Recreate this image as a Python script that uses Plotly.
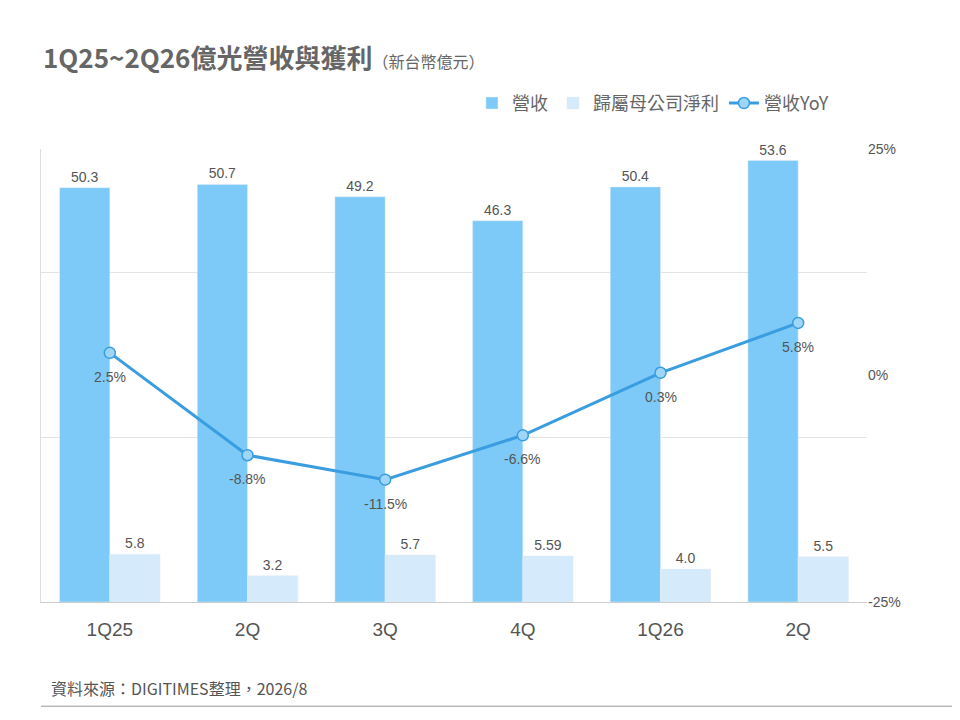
import plotly.graph_objects as go

categories = ["1Q25", "2Q", "3Q", "4Q", "1Q26", "2Q"]
revenue = [50.3, 50.7, 49.2, 46.3, 50.4, 53.6]
net_income = [5.8, 3.2, 5.7, 5.59, 4.0, 5.5]
net_labels = ["5.8", "3.2", "5.7", "5.59", "4.0", "5.5"]
yoy = [2.5, -8.8, -11.5, -6.6, 0.3, 5.8]

x = list(range(len(categories)))
font = "Noto Sans CJK TC, Arial, sans-serif"
lab = "Liberation Sans, Arial, sans-serif"

fig = go.Figure()
fig.add_bar(x=x, y=revenue, name="營收", marker_color="#7DCAF8",
            text=[f"{v:.1f}" for v in revenue], textposition="outside",
            textfont=dict(size=14, color="#555", family=lab), cliponaxis=False, offsetgroup=0)
fig.add_bar(x=x, y=net_income, name="歸屬母公司淨利", marker_color="#D5EAFA",
            text=net_labels, textposition="outside",
            textfont=dict(size=14, color="#555", family=lab), cliponaxis=False, offsetgroup=1)
fig.add_scatter(x=x, y=yoy, name="營收YoY", yaxis="y2", mode="lines+markers",
                line=dict(color="#3A9DE0", width=3),
                marker=dict(size=11, color="#9FD6F7", line=dict(color="#3A9DE0", width=1.5)),
                cliponaxis=False)

yoy_ann = [dict(x=xi, y=v, xref="x", yref="y2", text=f"{v}%", showarrow=False,
                yshift=-24, font=dict(size=14, color="#555", family=lab))
           for xi, v in zip(x, yoy)]

fig.update_layout(
    width=960, height=720, margin=dict(l=33, r=101, t=141, b=126),
    paper_bgcolor="white", plot_bgcolor="white",
    font=dict(family=font, color="#555"),
    barmode="group", bargap=0.27, bargroupgap=0,
    showlegend=True,
    legend=dict(orientation="h", x=0.96, xanchor="right", y=1.06, yanchor="bottom",
                font=dict(size=18, color="#666"), traceorder="normal"),
    xaxis=dict(tickmode="array", tickvals=x, ticktext=categories,
               tickfont=dict(size=19, color="#555", family=lab), showline=True,
               linecolor="#ccc", range=[-0.5, 5.5], ticks="", ticklabelstandoff=10),
    yaxis=dict(range=[0, 55], dtick=20, showticklabels=False, gridcolor="#e3e3e3",
               showline=True, linecolor="#ddd", zeroline=False),
    yaxis2=dict(range=[-25, 25], overlaying="y", side="right",
                tickvals=[-25, 0, 25], ticktext=["-25%", "0%", "25%"],
                showgrid=False, zeroline=False, tickfont=dict(size=14, color="#555", family=lab)),
    annotations=yoy_ann + [
        dict(text="<b>1Q25~2Q26億光營收與獲利</b><span style='font-size:16px'>（新台幣億元）</span>",
             xref="paper", yref="paper", x=0.0, y=1.205, xanchor="left", yanchor="middle",
             showarrow=False, font=dict(size=26, color="#666")),
        dict(text="資料來源：DIGITIMES整理，2026/8", xref="paper", yref="paper",
             x=0.01, y=-0.19, xanchor="left", yanchor="middle", showarrow=False,
             font=dict(size=16, color="#555")),
    ],
    shapes=[dict(type="line", xref="paper", yref="paper", x0=0.0, x1=1.105,
                 y0=-0.23, y1=-0.23, line=dict(color="#999", width=1))],
)
fig.write_html("out.html")
